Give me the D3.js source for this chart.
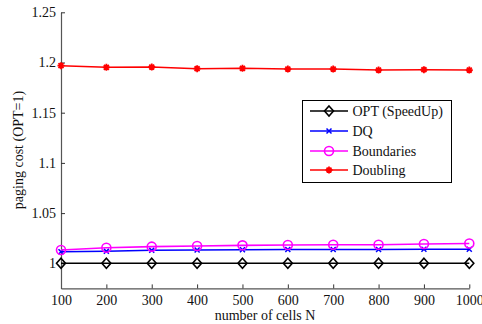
<!DOCTYPE html>
<html><head><meta charset="utf-8">
<script src="https://cdn.jsdelivr.net/npm/d3@7"></script>
<style>
body{margin:0;background:#fff;}
text{font-family:"Liberation Serif","Times New Roman",serif;}
</style></head>
<body><svg id="c" width="482" height="324"></svg>
<script>
const cells = [100,200,300,400,500,600,700,800,900,1000];
const optVals = [1,1,1,1,1,1,1,1,1,1];
const dqVals = [1.0115,1.012,1.013,1.0133,1.0135,1.0137,1.0138,1.0138,1.014,1.014];
const boundVals = [1.0132,1.0155,1.0166,1.0172,1.0179,1.0182,1.0185,1.0185,1.0192,1.0197];
const doublingVals = [1.1968,1.1952,1.1955,1.1938,1.1942,1.1935,1.1935,1.1925,1.1928,1.1925];
const yTicks = [1,1.05,1.1,1.15,1.2,1.25];
const yTickLabels = ["1","1.05","1.1","1.15","1.2","1.25"];
const seriesNames = ["OPT (SpeedUp)","DQ","Boundaries","Doubling"];
const seriesColors = ["#000000","#0000ff","#ff00ff","#ff0000"];
const seriesMarkers = ["diamond","x","circle","star"];
const seriesData = [optVals,dqVals,boundVals,doublingVals];

const FS = 14;
const svg = d3.select("#c");
const x = d3.scaleLinear().domain([100,1000]).range([61,469.3]);
const y = d3.scaleLinear().domain([0.975,1.25]).range([288.4,12.3]);

const xAxis = d3.axisBottom(x).tickValues(cells).tickFormat(d3.format("d")).tickSizeInner(-4).tickSizeOuter(0).tickPadding(7);
const yAxis = d3.axisLeft(y).tickValues(yTicks).tickFormat((d,i)=>yTickLabels[i]).tickSizeInner(-4).tickSizeOuter(0).tickPadding(5);
const gx = svg.append("g").attr("transform","translate(0,288.4)").call(xAxis);
const gy = svg.append("g").attr("transform","translate(61,0)").call(yAxis);
[gx,gy].forEach(g=>{
  g.attr("font-family",null);
  g.select(".domain").attr("stroke","#555").attr("stroke-width",1.2);
  g.selectAll(".tick line").attr("stroke","#333");
  g.selectAll(".tick text").attr("font-size",FS).attr("fill","#111");
});

svg.append("text").attr("x",265).attr("y",320).attr("text-anchor","middle").attr("font-size",FS).attr("fill","#111").text("number of cells N");
svg.append("text").attr("transform","translate(23,150) rotate(-90)").attr("text-anchor","middle").attr("font-size",FS).attr("fill","#111").text("paging cost (OPT=1)");

function marker(g, type, cx, cy, color){
  if(type==="diamond"){
    g.append("path").attr("d",`M${cx},${cy-5}L${cx+4.5},${cy}L${cx},${cy+5}L${cx-4.5},${cy}Z`).attr("fill","none").attr("stroke",color).attr("stroke-width",1.6);
  } else if(type==="x"){
    g.append("path").attr("d",`M${cx-2.5},${cy-2.5}L${cx+2.5},${cy+2.5}M${cx-2.5},${cy+2.5}L${cx+2.5},${cy-2.5}`).attr("stroke",color).attr("stroke-width",1.5);
  } else if(type==="circle"){
    g.append("circle").attr("cx",cx).attr("cy",cy).attr("r",4.5).attr("fill","none").attr("stroke",color).attr("stroke-width",1.6);
  } else if(type==="star"){
    let d="";
    for(let k=0;k<4;k++){const a=k*Math.PI/4;const dx=3.5*Math.cos(a),dy=3.5*Math.sin(a);d+=`M${cx-dx},${cy-dy}L${cx+dx},${cy+dy}`;}
    g.append("path").attr("d",d).attr("stroke",color).attr("stroke-width",1.8);
  }
}

const line = d3.line().x((d,i)=>x(cells[i])).y(d=>y(d));
seriesData.forEach((vals,s)=>{
  const g = svg.append("g");
  g.append("path").datum(vals).attr("d",line).attr("fill","none").attr("stroke",seriesColors[s]).attr("stroke-width",1.6);
  vals.forEach((v,i)=>marker(g,seriesMarkers[s],x(cells[i]),y(v),seriesColors[s]));
});

const lg = svg.append("g");
lg.append("rect").attr("x",302.5).attr("y",100.5).attr("width",149).attr("height",82).attr("fill","#fff").attr("stroke","#000").attr("stroke-width",1);
const ly = [111,131,151,170];
seriesNames.forEach((n,s)=>{
  lg.append("line").attr("x1",310).attr("x2",348).attr("y1",ly[s]).attr("y2",ly[s]).attr("stroke",seriesColors[s]).attr("stroke-width",1.6);
  marker(lg,seriesMarkers[s],329,ly[s],seriesColors[s]);
  lg.append("text").attr("x",352.5).attr("y",ly[s]+5).attr("font-size",FS).attr("fill","#111").text(n);
});
</script></body></html>
